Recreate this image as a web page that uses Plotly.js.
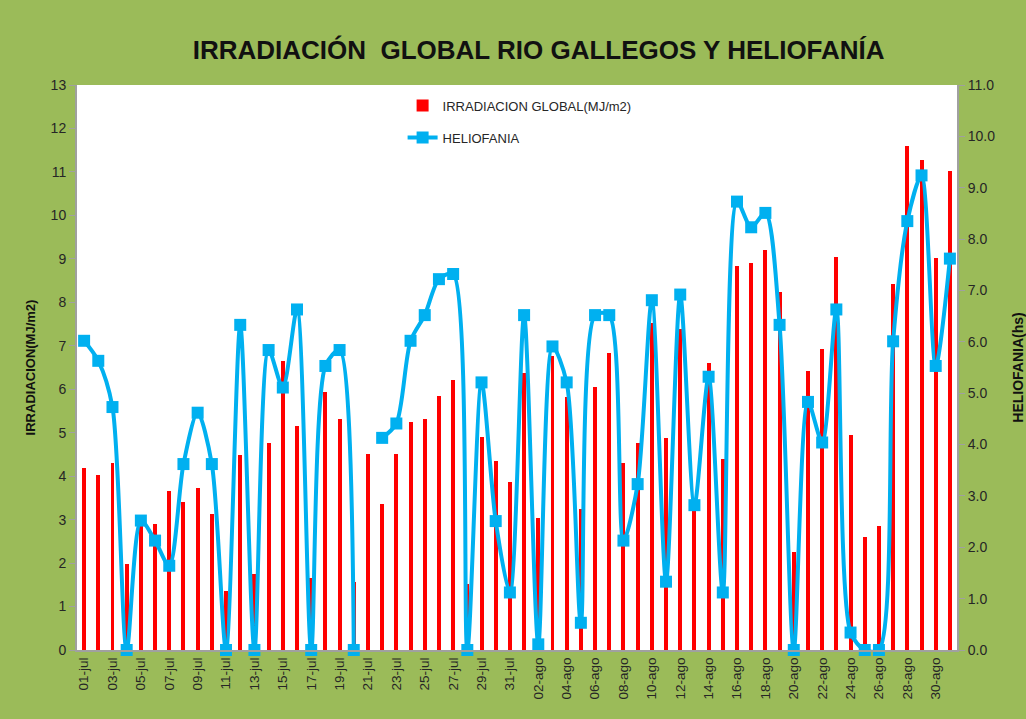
<!DOCTYPE html>
<html>
<head>
<meta charset="utf-8">
<script src="https://cdn.plot.ly/plotly-3.0.1.min.js"></script>
<style>html,body{margin:0;padding:0;background:#9BBB59;}#chart{width:1026px;height:719px;}</style>
</head>
<body>
<div id="chart"></div>
<script>
const categories = [
  "01-jul","02-jul","03-jul","04-jul","05-jul","06-jul","07-jul","08-jul","09-jul","10-jul",
  "11-jul","12-jul","13-jul","14-jul","15-jul","16-jul","17-jul","18-jul","19-jul","20-jul",
  "21-jul","22-jul","23-jul","24-jul","25-jul","26-jul","27-jul","28-jul","29-jul","30-jul","31-jul",
  "01-ago","02-ago","03-ago","04-ago","05-ago","06-ago","07-ago","08-ago","09-ago","10-ago",
  "11-ago","12-ago","13-ago","14-ago","15-ago","16-ago","17-ago","18-ago","19-ago","20-ago",
  "21-ago","22-ago","23-ago","24-ago","25-ago","26-ago","27-ago","28-ago","29-ago","30-ago","31-ago"
];

const irradiacion = [
  4.18,4.03,4.30,1.99,2.85,2.90,3.67,3.40,3.72,3.12,
  1.36,4.49,1.75,4.76,6.65,5.15,1.65,5.94,5.31,1.56,
  4.51,3.35,4.51,5.24,5.31,5.85,6.22,1.53,4.91,4.36,3.87,
  6.37,3.03,6.76,5.83,3.24,6.04,6.83,4.30,4.76,7.53,
  4.87,7.38,3.30,6.61,4.39,8.84,8.90,9.21,8.23,2.25,
  6.41,6.93,9.05,4.95,2.60,2.85,8.41,11.59,11.28,9.03,11.01
];

const heliofania = [
  6.02,5.63,4.73,0,2.52,2.13,1.64,3.62,4.62,3.62,
  0,6.33,0,5.84,5.11,6.63,0,5.53,5.84,0,
  null,4.13,4.41,6.02,6.52,7.22,7.32,0,5.21,2.51,1.12,
  6.52,0.11,5.91,5.21,0.53,6.52,6.52,2.13,3.23,6.81,
  1.33,6.92,2.82,5.32,1.12,8.73,8.23,8.51,6.33,0,
  4.83,4.04,6.63,0.34,0,0,6.01,8.35,9.24,5.53,7.62
];

const tickLabels = categories.filter((c, i) => i % 2 === 0);
const leftTicks = [0,1,2,3,4,5,6,7,8,9,10,11,12,13];
const rightTicks = [0,1,2,3,4,5,6,7,8,9,10,11];

const FONT = "Liberation Sans, Arial, sans-serif";
const TXT = "#262626";

const traces = [
  {
    type: "bar",
    name: "IRRADIACION GLOBAL(MJ/m2)",
    x: categories,
    y: irradiacion,
    width: 0.28,
    marker: {color: "#FF0000"},
    legendgroup: "a",
    yaxis: "y"
  },
  {
    type: "scatter",
    mode: "lines+markers",
    name: "HELIOFANIA",
    x: categories,
    y: heliofania,
    yaxis: "y2",
    line: {color: "#00B0F0", width: 4, shape: "spline", smoothing: 0.8},
    marker: {symbol: "square", size: 12, color: "#00B0F0"},
    connectgaps: false,
    cliponaxis: false,
    legendgroup: "b"
  }
];

const layout = {
  width: 1026,
  height: 719,
  paper_bgcolor: "#9BBB59",
  plot_bgcolor: "#FFFFFF",
  margin: {l: 77, r: 69, t: 85, b: 69},
  font: {family: FONT, color: TXT, size: 13},
  title: {
    text: "<b>IRRADIACIÓN  GLOBAL RIO GALLEGOS Y HELIOFANÍA</b>",
    font: {family: "Liberation Sans Narrow, Arial Narrow, Liberation Sans, sans-serif", size: 26, color: "#111111"},
    x: 0.525, xanchor: "center",
    y: 0.93, yanchor: "middle"
  },
  bargap: 0,
  showlegend: true,
  legend: {
    x: 0.37, y: 0.99, xanchor: "left", yanchor: "top",
    bgcolor: "rgba(0,0,0,0)",
    font: {family: FONT, size: 13, color: TXT},
    traceorder: "grouped",
    tracegroupgap: 12
  },
  xaxis: {
    type: "category",
    range: [-0.5, categories.length - 0.5],
    tickmode: "array",
    tickvals: tickLabels,
    ticktext: tickLabels,
    tickangle: -90,
    ticks: "",
    tickfont: {family: FONT, size: 13.5, color: TXT},
    showgrid: false,
    showline: true,
    linecolor: "#A0A0A0",
    linewidth: 2,
    zeroline: false,
    fixedrange: true
  },
  yaxis: {
    range: [0, 13],
    tickmode: "array",
    tickvals: leftTicks,
    ticks: "outside",
    ticklen: 6,
    tickcolor: "#A0A0A0",
    tickfont: {family: FONT, size: 14, color: TXT},
    showgrid: false,
    showline: true,
    linecolor: "#A0A0A0",
    linewidth: 2,
    zeroline: false,
    title: {text: "<b>IRRADIACION(MJ/m2)</b>", font: {family: FONT, size: 13, color: "#111111"}, standoff: 12}
  },
  yaxis2: {
    overlaying: "y",
    side: "right",
    range: [0, 11],
    tickmode: "array",
    tickvals: rightTicks,
    tickformat: ".1f",
    ticks: "outside",
    ticklen: 6,
    tickcolor: "#A0A0A0",
    tickfont: {family: FONT, size: 14, color: TXT},
    showgrid: false,
    showline: true,
    linecolor: "#A0A0A0",
    linewidth: 2,
    zeroline: false,
    title: {text: "<b>HELIOFANIA(hs)</b>", font: {family: FONT, size: 14, color: "#111111"}, standoff: 24}
  }
};

Plotly.newPlot("chart", traces, layout, {displayModeBar: false, staticPlot: true});
</script>
</body>
</html>
